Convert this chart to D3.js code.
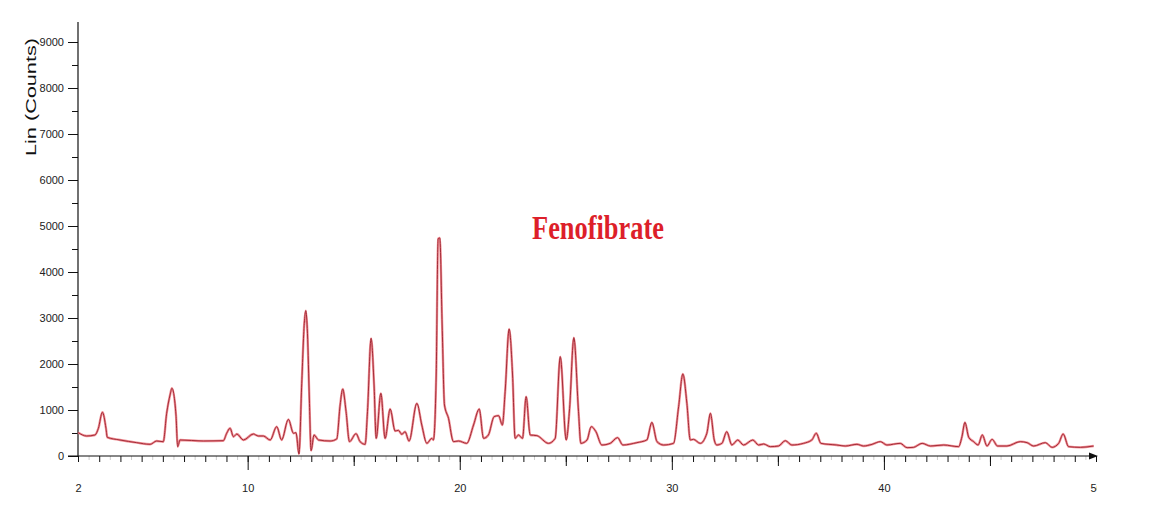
<!DOCTYPE html>
<html lang="en">
<head>
<meta charset="utf-8">
<title>Fenofibrate XRD</title>
<script src="https://d3js.org/d3.v7.min.js"></script>
<style>
  body { margin: 0; background: #fff; }
  svg { display: block; }
</style>
</head>
<body>
<script>

var w = 1172;
var h = 518;

// 2-theta positions and counts
var twoTheta = [2.0, 2.41, 2.8, 2.96, 3.15, 3.32, 3.38, 3.98, 4.77, 5.4, 5.71, 6.02,
  6.18, 6.34, 6.43, 6.62, 6.70, 6.81, 7.91, 8.85, 9.01, 9.17, 9.33, 9.49, 9.8,
  10.27, 10.5, 10.74, 11.06, 11.37, 11.6, 11.92, 12.16, 12.28, 12.42, 12.55, 12.67,
  12.74, 12.82, 12.91, 12.99, 13.13, 13.34, 13.89, 14.2, 14.36, 14.48, 14.64, 14.8,
  15.11, 15.3, 15.54, 15.65, 15.82, 15.96, 16.06, 16.28, 16.48, 16.72, 16.95, 17.11,
  17.27, 17.42, 17.61, 17.98, 18.21, 18.45, 18.68, 18.76, 18.89, 18.98, 19.06, 19.17,
  19.28, 19.47, 19.7, 19.94, 20.33, 20.65, 20.92, 21.12, 21.35, 21.62, 21.83, 22.01,
  22.14, 22.33, 22.49, 22.61, 22.77, 22.96, 23.13, 23.32, 23.64, 24.18, 24.5, 24.74,
  25.02, 25.18, 25.38, 25.6, 25.71, 26.0, 26.2, 26.42, 26.7, 27.09, 27.44, 27.69,
  28.35, 28.82, 29.06, 29.3, 29.61, 30.08, 30.32, 30.52, 30.71, 30.87, 31.02, 31.34,
  31.65, 31.82, 32.0, 32.12, 32.36, 32.59, 32.83, 33.11, 33.38, 33.82, 34.09, 34.33,
  34.64, 35.03, 35.35, 35.66, 36.21, 36.6, 36.81, 37.03, 37.78, 38.18, 38.73, 39.04,
  39.44, 39.83, 40.14, 40.77, 41.09, 41.4, 41.8, 42.19, 42.82, 43.52, 43.68, 43.82,
  44.0, 44.23, 44.44, 44.64, 44.86, 45.1, 45.36, 45.8, 46.43, 46.75, 47.06, 47.61,
  47.93, 48.24, 48.45, 48.71, 49.26, 49.89];
var counts = [510, 435, 457, 600, 950, 600, 406, 348, 290, 254, 326, 311,
  928, 1326, 1472, 891, 203, 348, 326, 333, 493, 602, 420, 478, 348,
  478, 435, 435, 348, 638, 348, 797, 493, 507, 43, 1580, 2884,
  3159, 2667, 1217, 116, 457, 348, 326, 370, 1109, 1457, 964, 312,
  486, 312, 254, 964, 2558, 1543, 384, 1362, 384, 1022, 544, 558,
  471, 529, 326, 1145, 674, 275, 384, 348, 1761, 4720, 4740, 2848,
  1109, 819, 312, 326, 275, 674, 1022, 384, 457, 855, 877, 674,
  1398, 2761, 1761, 384, 457, 384, 1290, 457, 442, 275, 384, 2159,
  348, 1036, 2572, 964, 275, 348, 638, 529, 239, 275, 399, 239,
  290, 348, 732, 312, 239, 275, 1072, 1783, 1145, 348, 362, 275,
  493, 928, 348, 239, 275, 529, 239, 348, 239, 348, 239, 261,
  203, 217, 333, 239, 275, 348, 493, 275, 239, 217, 254, 217,
  254, 312, 239, 275, 181, 188, 275, 217, 239, 203, 420, 732,
  406, 312, 239, 457, 217, 362, 217, 217, 312, 290, 217, 290,
  188, 275, 478, 203, 188, 217];

var yTicks = [0, 1000, 2000, 3000, 4000, 5000, 6000, 7000, 8000, 9000];
var yMinorTicks = [500, 1500, 2500, 3500, 4500, 5500, 6500, 7500, 8500];
var xLabelTicks = [2, 10, 20, 30, 40, 50];
var xMidTicks = [15, 25, 35, 45];
var xMajorTicks = [10, 20, 30, 40];
var xUnitTicks = d3.range(2, 51, 1);
var xHalfTicks = d3.range(2.5, 50, 1);

var title = "Fenofibrate";
var yTitle = "Lin (Counts)";

var x = d3.scaleLinear().domain([2, 50]).range([78, 1096]);
var y = d3.scaleLinear().domain([0, 9000]).range([456, 42]);

var svg = d3.select("body")
    .append("svg")
    .attr("width", w)
    .attr("height", h);

svg.append("defs").append("clipPath")
    .attr("id", "labelclip")
    .append("rect")
    .attr("x", 0).attr("y", 0)
    .attr("width", 1097).attr("height", h);

function tidy(g) {
  g.select(".domain").remove();
  g.selectAll(".tick line").attr("stroke", "#111");
  g.selectAll("text")
    .attr("font-family", "'Liberation Sans', Arial, sans-serif")
    .attr("font-size", 11)
    .attr("fill", "#222");
}

// y axis
svg.append("g")
    .attr("transform", "translate(78,0)")
    .call(d3.axisLeft(y).tickValues(yTicks).tickSize(10).tickPadding(4)
      .tickFormat(d3.format("d")))
    .call(tidy);
svg.append("g")
    .attr("transform", "translate(78,0)")
    .call(d3.axisLeft(y).tickValues(yMinorTicks).tickSize(6).tickFormat(""))
    .call(tidy);

svg.append("line")
    .attr("x1", 78).attr("x2", 78)
    .attr("y1", 22).attr("y2", 456)
    .attr("stroke", "#111").attr("stroke-width", 1.2);

// x axis
var xg = svg.append("g").attr("transform", "translate(0,456)");
xg.append("g")
    .call(d3.axisBottom(x).tickValues(xHalfTicks).tickSize(4).tickFormat(""))
    .call(tidy)
    .selectAll(".tick line").attr("stroke", "#ccc");
xg.append("g")
    .call(d3.axisBottom(x).tickValues(xUnitTicks).tickSize(6).tickFormat(""))
    .call(tidy);
xg.append("g")
    .call(d3.axisBottom(x).tickValues(xMidTicks).tickSize(10).tickFormat(""))
    .call(tidy);
xg.append("g")
    .call(d3.axisBottom(x).tickValues(xMajorTicks).tickSize(14).tickFormat(""))
    .call(tidy);
xg.append("g")
    .attr("clip-path", "url(#labelclip)")
    .call(d3.axisBottom(x).tickValues(xLabelTicks).tickSize(0).tickPadding(28)
      .tickFormat(d3.format("d")))
    .call(tidy);

svg.append("line")
    .attr("x1", 68).attr("x2", 1094)
    .attr("y1", 456).attr("y2", 456)
    .attr("stroke", "#111").attr("stroke-width", 1.2);
svg.append("path")
    .attr("d", "M1089,452.5 L1098,456 L1089,459.5 Z")
    .attr("fill", "#111");

// trace
var pts = twoTheta.map(function (t, i) { return [t, counts[i]]; });
var line = d3.line()
    .x(function (d) { return x(d[0]); })
    .y(function (d) { return y(d[1]); })
    .curve(d3.curveMonotoneX);

svg.append("path")
    .datum(pts)
    .attr("d", line)
    .attr("fill", "none")
    .attr("stroke", "#f09096")
    .attr("stroke-width", 2.4)
    .attr("stroke-linejoin", "round");
svg.append("path")
    .datum(pts)
    .attr("d", line)
    .attr("fill", "none")
    .attr("stroke", "#a42c38")
    .attr("stroke-width", 1)
    .attr("stroke-linejoin", "round");

// labels
svg.append("text")
    .attr("transform", "translate(36,97) rotate(-90)")
    .attr("text-anchor", "middle")
    .attr("font-family", "'Liberation Sans', Arial, sans-serif")
    .attr("font-size", 15.5)
    .attr("textLength", 118)
    .attr("lengthAdjust", "spacingAndGlyphs")
    .attr("fill", "#111")
    .text(yTitle);

svg.append("text")
    .attr("x", 598)
    .attr("y", 239)
    .attr("text-anchor", "middle")
    .attr("font-family", "'Liberation Serif', 'Times New Roman', serif")
    .attr("font-weight", "bold")
    .attr("font-size", 33)
    .attr("textLength", 132)
    .attr("lengthAdjust", "spacingAndGlyphs")
    .attr("fill", "#dd1f2a")
    .text(title);

</script>
</body>
</html>
